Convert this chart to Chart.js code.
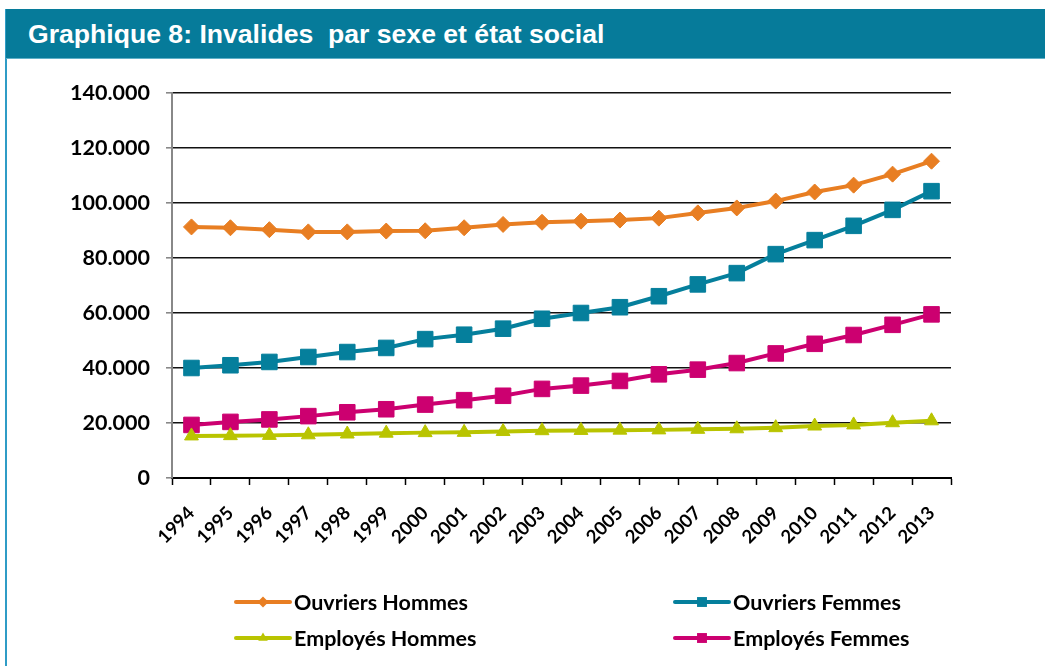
<!DOCTYPE html>
<html lang="fr">
<head>
<meta charset="utf-8">
<title>Graphique 8</title>
<script src="https://cdn.jsdelivr.net/npm/chart.js@4.4.1/dist/chart.umd.min.js"></script>
<style>
  html, body { margin: 0; padding: 0; background: #fff; }
  #wrap { position: relative; width: 1045px; height: 666px; overflow: hidden; }
  #chart { position: absolute; left: 0; top: 0; }
  #bord { position: absolute; left: 5px; top: 9px; width: 2px; height: 660px; background: #2f9cc6; }
  #titre {
    position: absolute; left: 6px; top: 9px; width: 1039px; height: 50px;
    background: #067b9a; border-bottom: 1px solid #5fb0c8; box-sizing: border-box;
    color: #fff; font: bold 26.6px "Liberation Sans", Arial, sans-serif;
    line-height: 50px; padding-left: 22px; white-space: pre;
  }
</style>
</head>
<body>
<div id="wrap">
  <canvas id="chart" width="1045" height="666"></canvas>
  <div id="bord"></div>
  <div id="titre">Graphique 8: Invalides  par sexe et état social</div>
</div>
<script>
// données
const annees = ["1994", "1995", "1996", "1997", "1998", "1999", "2000", "2001", "2002", "2003",
                "2004", "2005", "2006", "2007", "2008", "2009", "2010", "2011", "2012", "2013"];

const ouvriersHommes = [91300, 91000, 90300, 89500, 89500, 89800, 89900, 91000, 92200, 93000,
                        93400, 93800, 94500, 96400, 98200, 100700, 104000, 106500, 110500, 115200];
const ouvriersFemmes = [40000, 41000, 42200, 44000, 45800, 47300, 50500, 52100, 54300, 57900,
                        60000, 62100, 66100, 70400, 74500, 81400, 86500, 91700, 97500, 104300];
const employesHommes = [15300, 15400, 15500, 15700, 16000, 16300, 16500, 16600, 16900, 17200,
                        17300, 17400, 17500, 17700, 17900, 18300, 18900, 19300, 20100, 20800];
const employesFemmes = [19300, 20400, 21300, 22500, 23900, 25000, 26700, 28300, 29900, 32400,
                        33600, 35300, 37700, 39400, 41800, 45300, 48800, 52000, 55700, 59500];

const yTicks = [0, 20000, 40000, 60000, 80000, 100000, 120000, 140000];

// emplacement de la légende (2 colonnes)
const legendePos = [[236, 602], [675, 602], [236, 638], [675, 638]];

function formatMilliers(v) {
    return v === 0 ? "0" : v.toLocaleString("de-DE");
}

function serie(label, data, color, style, radius) {
    return {
        label,
        data,
        borderColor: color,
        backgroundColor: color,
        borderWidth: 4,
        pointStyle: style,
        pointRadius: radius,
        pointHoverRadius: radius,
        pointBorderWidth: 1,
        pointBorderColor: color,
        pointBackgroundColor: color,
        tension: 0
    };
}

const legendePlugin = {
    id: "legendeCols",
    afterDraw(chart) {
        const ctx = chart.ctx;
        chart.data.datasets.forEach((ds, i) => {
            const [x, y] = legendePos[i];
            ctx.save();
            ctx.strokeStyle = ds.borderColor;
            ctx.lineWidth = 4;
            ctx.lineCap = "round";
            ctx.beginPath();
            ctx.moveTo(x, y);
            ctx.lineTo(x + 54, y);
            ctx.stroke();
            ctx.fillStyle = ds.borderColor;
            Chart.helpers.drawPoint(ctx, {
                pointStyle: ds.pointStyle,
                radius: ds.pointStyle === "rect" ? 7 : 5.5,
                borderWidth: 0,
                rotation: 0
            }, x + 27, y);
            ctx.fillStyle = "#000";
            ctx.font = "bold 21.5px Lato, 'Open Sans', sans-serif";
            ctx.textBaseline = "middle";
            ctx.textAlign = "left";
            ctx.fillText(ds.label, x + 58, y + 1);
            ctx.restore();
        });
    }
};

const fondBlanc = {
    id: "fondBlanc",
    beforeDraw(chart) {
        const ctx = chart.ctx;
        ctx.save();
        ctx.fillStyle = "#fff";
        ctx.fillRect(0, 0, chart.width, chart.height);
        ctx.restore();
    }
};

new Chart(document.getElementById("chart"), {
    type: "line",
    data: {
        labels: annees,
        datasets: [
            serie("Ouvriers Hommes", ouvriersHommes, "#e87e22", "rectRot", 8),
            serie("Ouvriers Femmes", ouvriersFemmes, "#057f9c", "rect", 11),
            serie("Employés Hommes", employesHommes, "#b9c400", "triangle", 8),
            serie("Employés Femmes", employesFemmes, "#cc0070", "rect", 11)
        ]
    },
    options: {
        responsive: false,
        animation: false,
        layout: { padding: { left: 0, top: 93, right: 94, bottom: 0 } },
        plugins: {
            legend: { display: false },
            tooltip: { enabled: false }
        },
        scales: {
            x: {
                offset: true,
                afterFit: s => { s.height = 188; },
                grid: {
                    offset: true,
                    drawOnChartArea: false,
                    drawTicks: true,
                    tickLength: 7,
                    tickColor: "#000",
                    tickWidth: 1.5
                },
                border: { color: "#000", width: 2 },
                ticks: {
                    color: "#000",
                    maxRotation: 45,
                    minRotation: 45,
                    padding: 17,
                    font: { family: "Lato, 'Open Sans', sans-serif", weight: "bold", size: 18.5 }
                }
            },
            y: {
                min: 0,
                max: 140000,
                afterFit: s => { s.width = 172; },
                afterBuildTicks: s => { s.ticks = yTicks.map(v => ({ value: v })); },
                grid: {
                    color: ctx => ctx.tick && ctx.tick.value === 0 ? "rgba(0,0,0,0)" : "#111",
                    lineWidth: 1.6,
                    tickLength: 6,
                    tickColor: "#888"
                },
                border: { color: "#888", width: 2 },
                ticks: {
                    color: "#000",
                    padding: 16,
                    callback: v => formatMilliers(v),
                    font: { family: "Lato, 'Open Sans', sans-serif", weight: "bold", size: 21.5 }
                }
            }
        }
    },
    plugins: [fondBlanc, legendePlugin]
});
</script>
</body>
</html>
